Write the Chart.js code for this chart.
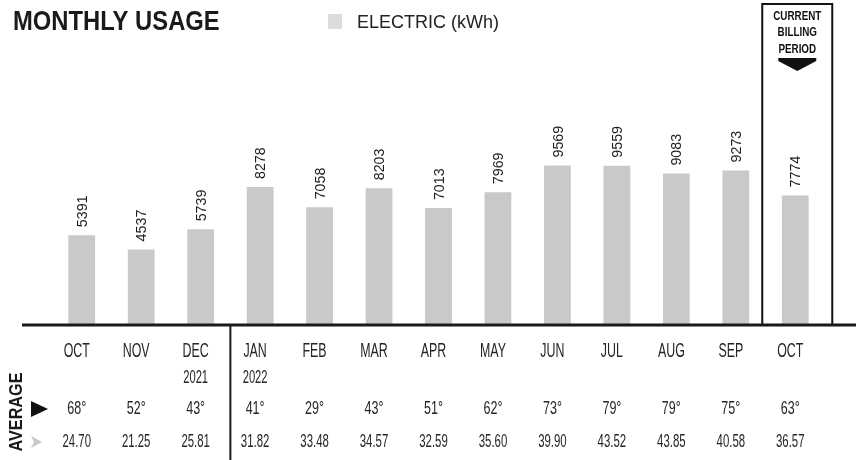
<!DOCTYPE html>
<html>
<head>
<meta charset="utf-8">
<script src="https://cdn.jsdelivr.net/npm/chart.js@4/dist/chart.umd.min.js"></script>
<style>
  html, body { margin: 0; padding: 0; background: #ffffff; }
  #wrap { width: 858px; height: 460px; position: relative; }
</style>
</head>
<body>
<div id="wrap"><canvas id="c" width="858" height="460"></canvas></div>
<script>
const months = ['OCT','NOV','DEC','JAN','FEB','MAR','APR','MAY','JUN','JUL','AUG','SEP','OCT'];
const years = ['','','2021','2022','','','','','','','','',''];
const kwh = [5391,4537,5739,8278,7058,8203,7013,7969,9569,9559,9083,9273,7774];
const avgTemp = [68,52,43,41,29,43,51,62,73,79,79,75,63];
const avgDailyUse = [24.70,21.25,25.81,31.82,33.48,34.57,32.59,35.60,39.90,43.52,43.85,40.58,36.57];
const currentIndex = 12;
const yearBreakAfter = 2;

const FONT = '"Liberation Sans", Arial, sans-serif';

function sText(ctx, text, x, y, font, sx, color, align) {
  ctx.save();
  ctx.translate(x, y);
  ctx.scale(sx, 1);
  ctx.font = font;
  ctx.fillStyle = color;
  ctx.textAlign = align || 'center';
  ctx.textBaseline = 'middle';
  ctx.fillText(text, 0, 0);
  ctx.restore();
}

const decor = {
  id: 'decor',
  afterDraw(chart) {
    const ctx = chart.ctx;
    const xs = chart.scales.x;
    const ys = chart.scales.y;
    const base = ys.getPixelForValue(0);
    const off = -5;

    ctx.save();
    // Title
    sText(ctx, 'MONTHLY USAGE', 13, 22, 'bold 28px ' + FONT, 0.85, '#1a1a1a', 'left');
    // Legend
    ctx.fillStyle = '#dcdcdc';
    ctx.fillRect(328, 14, 14, 15);
    sText(ctx, 'ELECTRIC (kWh)', 357, 23, '18px ' + FONT, 1.0, '#222', 'left');

    // Value labels (rotated)
    const meta = chart.getDatasetMeta(0);
    meta.data.forEach((bar, i) => {
      ctx.save();
      ctx.translate(bar.x + 1, bar.y - 8);
      ctx.rotate(-Math.PI / 2);
      ctx.scale(0.95, 1);
      ctx.font = '15px ' + FONT;
      ctx.fillStyle = '#1e1e1e';
      ctx.textAlign = 'left';
      ctx.textBaseline = 'middle';
      ctx.fillText(String(kwh[i]), 0, 0);
      ctx.restore();
    });

    // Current billing period box
    const cx = xs.getPixelForValue(currentIndex) + 2;
    ctx.strokeStyle = '#111';
    ctx.lineWidth = 2;
    ctx.strokeRect(cx - 35, 4, 70, base - 4);
    sText(ctx, 'CURRENT', cx, 17, 'bold 12px ' + FONT, 0.82, '#111');
    sText(ctx, 'BILLING', cx, 33, 'bold 12px ' + FONT, 0.82, '#111');
    sText(ctx, 'PERIOD', cx, 50, 'bold 12px ' + FONT, 0.82, '#111');
    ctx.fillStyle = '#111';
    ctx.beginPath();
    ctx.moveTo(cx - 19, 58);
    ctx.lineTo(cx + 19, 58);
    ctx.lineTo(cx + 19, 61);
    ctx.lineTo(cx, 71);
    ctx.lineTo(cx - 19, 61);
    ctx.closePath();
    ctx.fill();

    // Axis line
    ctx.strokeStyle = '#1a1a1a';
    ctx.lineWidth = 3;
    ctx.beginPath();
    ctx.moveTo(22, base);
    ctx.lineTo(856, base);
    ctx.stroke();

    // Year divider
    const dx = (xs.getPixelForValue(yearBreakAfter) + xs.getPixelForValue(yearBreakAfter + 1)) / 2;
    ctx.lineWidth = 2;
    ctx.beginPath();
    ctx.moveTo(dx, base);
    ctx.lineTo(dx, 460);
    ctx.stroke();

    // Table rows
    months.forEach((m, i) => {
      const x = xs.getPixelForValue(i) + off;
      sText(ctx, m, x, 351, '20px ' + FONT, 0.62, '#262626');
      if (years[i]) sText(ctx, years[i], x, 378, '18px ' + FONT, 0.62, '#262626');
      sText(ctx, avgTemp[i] + '°', x, 409, '19px ' + FONT, 0.66, '#262626');
      sText(ctx, avgDailyUse[i].toFixed(2), x, 442, '19px ' + FONT, 0.6, '#262626');
    });

    // AVERAGE label
    ctx.save();
    ctx.translate(17, 412);
    ctx.rotate(-Math.PI / 2);
    ctx.scale(0.9, 1);
    ctx.font = 'bold 18px ' + FONT;
    ctx.fillStyle = '#1a1a1a';
    ctx.textAlign = 'center';
    ctx.textBaseline = 'middle';
    ctx.fillText('AVERAGE', 0, 0);
    ctx.restore();

    // Row markers
    ctx.fillStyle = '#111';
    ctx.beginPath();
    ctx.moveTo(31, 401);
    ctx.lineTo(48, 409);
    ctx.lineTo(31, 417);
    ctx.closePath();
    ctx.fill();
    ctx.fillStyle = '#c8c8c8';
    ctx.beginPath();
    ctx.moveTo(31, 436);
    ctx.lineTo(42, 442);
    ctx.lineTo(31, 448);
    ctx.lineTo(34, 442);
    ctx.closePath();
    ctx.fill();

    ctx.restore();
  }
};

new Chart(document.getElementById('c'), {
  type: 'bar',
  data: {
    labels: months,
    datasets: [{
      label: 'ELECTRIC (kWh)',
      data: kwh,
      backgroundColor: '#c9c9c9',
      borderWidth: 0,
      categoryPercentage: 1,
      barPercentage: 0.45
    }]
  },
  options: {
    responsive: false,
    animation: false,
    devicePixelRatio: 1,
    layout: { padding: { left: 52, right: 33, top: 125, bottom: 135 } },
    plugins: { legend: { display: false }, tooltip: { enabled: false } },
    scales: {
      x: { display: false },
      y: { display: false, min: 0, max: 12000 }
    }
  },
  plugins: [decor]
});
</script>
</body>
</html>
